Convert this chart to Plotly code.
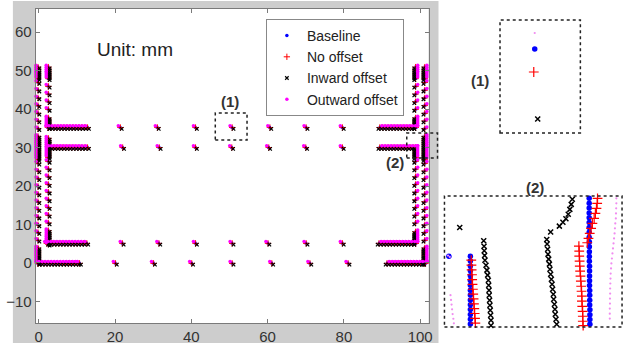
import plotly.graph_objects as go

W, H = 631, 346

# ---------------- main plot data (mm) ----------------
left_outer_x = -0.3
left_outer_y = [0, 0.5, 1, 1.5, 2, 2.5, 3, 3.5, 4, 6, 8, 10, 12, 14, 16, 18, 20, 22, 24, 26,
                27, 27.5, 28, 28.5, 29, 29.5, 30, 30.5, 31, 31.5, 32, 32.5, 33,
                35, 37, 39, 41, 43, 45, 47, 48, 48.5, 49, 49.5, 50, 50.5, 51]
left_inner_x = 2.4
left_inner_y = [5, 5.5, 6, 6.5, 7, 7.5, 8, 8.5, 10.5, 12.5, 14.5, 16.5, 18.5, 20.5, 22.5, 24.5, 26.5,
                27.5, 28, 28.5, 29, 29.5, 30, 30.5, 31, 31.5, 32, 32.5,
                35.3, 35.8, 36.3, 36.8, 37.3, 37.8, 40, 42, 44, 46, 48, 48.5, 49, 49.5, 50, 50.5, 51]
right_inner_x = 98.9
right_inner_y = [5.2, 5.7, 6.2, 6.7, 7.2, 7.7, 8.2, 10.5, 12.5, 14.5, 16.5, 18.5, 20.5, 22.5, 24.5, 26.5,
                 27.5, 28, 28.5, 29, 29.5, 30.1,
                 35.3, 35.8, 36.3, 36.8, 37.3, 37.8, 40, 42, 44, 46, 48, 48.5, 49, 49.5, 50, 50.5, 51]
right_outer_x = 101.3
right_outer_y = [0, 0.5, 1, 1.5, 2, 2.5, 3, 3.5, 4, 6, 8, 10, 12, 14, 16, 18, 20, 22, 24, 26,
                 27, 27.5, 28, 28.5, 29, 29.5, 30, 30.5, 31, 31.5, 32, 32.5, 33,
                 35, 37, 39, 41, 43, 45, 47, 48, 48.5, 49, 49.5, 50, 50.5, 51]

row_levels = [35.3, 30.1, 5.2, 0.0]
left_row_x = [
    [2.3, 3.1, 3.9, 4.7, 5.5, 6.3, 7.1, 7.9, 8.7, 9.5, 10.3, 11.1, 11.9, 12.7],
    [3.0, 3.8, 4.6, 5.4, 6.2, 7.0, 7.8, 8.6, 9.4, 10.2, 11.0, 11.8, 12.7],
    [2.0, 2.8, 3.6, 4.4, 5.2, 6.0, 6.8, 7.6, 8.4, 9.2, 10.0, 10.8, 11.6, 12.5],
    [-0.3, 0.5, 1.3, 2.1, 2.9, 3.7, 4.5, 5.3, 6.1, 6.9, 7.7, 8.5, 9.3, 10.1, 10.6],
]
right_row_x = [
    [89.5, 90.3, 91.1, 91.9, 92.7, 93.5, 94.3, 95.1, 95.9, 96.7, 97.5, 98.3, 98.9],
    [89.5, 90.3, 91.1, 91.9, 92.7, 93.5, 94.3, 95.1, 95.9, 96.7, 97.5, 98.3, 98.9],
    [89.3, 90.1, 90.9, 91.7, 92.5, 93.3, 94.1, 94.9, 95.7, 96.5, 97.3, 98.1, 98.9],
    [91.4, 92.2, 93.0, 93.8, 94.6, 95.4, 96.2, 97.0, 97.8, 98.6, 99.4, 100.2, 101.0, 101.5],
]
mid_x = [
    [21.3, 31.0, 41.0, 50.6, 60.5, 70.0, 79.5],
    [21.9, 31.5, 41.0, 50.5, 60.2, 69.9, 79.5],
    [21.8, 31.4, 41.0, 50.6, 60.0, 70.0, 79.5],
    [20.0, 30.0, 40.0, 50.6, 61.0, 71.0, 81.0],
]

series_names = ["Baseline", "No offset", "Inward offset", "Outward offset"]
series_dx = [0.0, 0.1, 0.45, -0.45]
series_dy = [0.0, -0.1, -0.45, 0.35]

# ---------------- inset (1): zoom of point near (51, 35), local units ----------------
in1_x = [4.32, 4.20, 4.69, 4.32]     # Baseline, No offset, Inward, Outward
in1_y = [7.43, 5.40, 1.24, 8.85]

# ---------------- inset (2): zoom of right notch, local units ----------------
in2_base_x = [0.25, 1.46, 1.46, 1.46, 1.46, 1.46, 1.46, 1.46, 1.46, 1.46, 1.46, 1.46, 1.46, 1.46, 1.46, 1.46,
              8.15, 8.15, 8.15, 8.15, 8.15, 8.15, 8.15, 8.15, 8.15, 8.16, 8.16, 8.16, 8.16, 8.16,
              8.17, 8.17, 8.17, 8.17, 8.17, 8.18, 8.18, 8.18, 8.18, 8.19, 8.19, 8.19, 8.19]
in2_base_y = [5.40, 5.40, 5.03, 4.66, 4.29, 3.92, 3.55, 3.18, 2.81, 2.44, 2.07, 1.70, 1.33, 0.96, 0.59, 0.22,
              9.82, 9.45, 9.08, 8.71, 8.34, 7.97, 7.60, 7.23, 6.86, 6.49, 6.12, 5.75, 5.38, 5.01,
              4.64, 4.27, 3.90, 3.53, 3.16, 2.79, 2.42, 2.05, 1.68, 1.31, 0.94, 0.57, 0.21]
in2_nooff_x = [1.51, 1.52, 1.53, 1.55, 1.56, 1.58, 1.60, 1.62, 1.64, 1.66, 1.68, 1.70, 1.72, 1.74,
               7.57, 7.59, 7.59, 7.61, 7.62, 7.64, 7.66, 7.68, 7.70, 7.72, 7.74, 7.74, 7.76, 7.78, 7.79, 7.79, 7.81,
               8.62, 8.60, 8.56, 8.50, 8.43, 8.33, 8.26, 8.18, 8.11, 8.04]
in2_nooff_y = [5.10, 4.73, 4.36, 3.99, 3.62, 3.25, 2.88, 2.51, 2.14, 1.77, 1.40, 1.03, 0.66, 0.29,
               6.17, 5.79, 5.41, 5.03, 4.64, 4.26, 3.88, 3.50, 3.11, 2.73, 2.35, 1.97, 1.58, 1.20, 0.82, 0.44, 0.11,
               9.82, 9.44, 9.06, 8.67, 8.29, 7.91, 7.53, 7.14, 6.76, 6.43]
in2_in_x = [0.86,
            2.21, 2.23, 2.24, 2.26, 2.28, 2.34, 2.39, 2.43, 2.47, 2.49, 2.51, 2.52, 2.54, 2.56, 2.58, 2.60, 2.62, 2.62,
            7.20, 7.14, 7.06, 6.97, 6.84, 6.67, 6.47, 5.98,
            5.76, 5.78, 5.81, 5.83, 5.87, 5.91, 5.94, 5.98, 6.02, 6.06, 6.09, 6.13, 6.15, 6.19, 6.22, 6.24, 6.28, 6.32]
in2_in_y = [7.60,
            6.58, 6.17, 5.82, 5.46, 5.10, 4.72, 4.34, 3.96, 3.57, 3.19, 2.81, 2.43, 2.04, 1.66, 1.28, 0.90, 0.51, 0.11,
            9.75, 9.36, 8.98, 8.60, 8.27, 7.99, 7.70, 7.25,
            6.68, 6.33, 5.94, 5.56, 5.18, 4.80, 4.41, 4.03, 3.65, 3.27, 2.88, 2.50, 2.12, 1.74, 1.35, 0.97, 0.59, 0.21]
in2_out_x = [0.20, 0.30, 0.34, 0.37, 0.40, 0.43, 0.46, 0.50, 0.53,
             9.68, 9.68, 9.67, 9.66, 9.65, 9.62, 9.60, 9.58, 9.55, 9.52, 9.49, 9.46, 9.43, 9.40,
             9.38, 9.36, 9.35, 9.34, 9.33, 9.33, 9.32, 9.32, 9.31, 9.31, 9.31]
in2_out_y = [5.45, 5.35, 2.43, 2.07, 1.71, 1.35, 0.99, 0.63, 0.28,
             9.82, 9.44, 9.06, 8.67, 8.29, 7.91, 7.53, 7.14, 6.76, 6.38, 6.00, 5.62, 5.23, 4.85,
             4.47, 4.08, 3.70, 3.32, 2.94, 2.55, 2.17, 1.79, 1.41, 1.02, 0.64]

# ---------------- styles ----------------
marker_main = [
    dict(symbol="circle", color="#0000ff", size=3.5, line=dict(width=0)),
    dict(symbol="cross-thin", color="#ff0000", size=4.5, line=dict(color="#ff0000", width=1)),
    dict(symbol="x-thin", color="#000000", size=3.5, line=dict(color="#000000", width=1.2)),
    dict(symbol="circle", color="#ff00ff", size=3.5, line=dict(width=0)),
]
marker_inset = [
    dict(symbol="circle", color="#0000ff", size=5.5, line=dict(width=0)),
    dict(symbol="cross-thin", color="#ff0000", size=7, line=dict(color="#ff0000", width=1.2)),
    dict(symbol="x-thin", color="#000000", size=5, line=dict(color="#000000", width=1.5)),
    dict(symbol="circle", color="#f08cf0", size=2.2, line=dict(width=0)),
]


def series_points(k):
    dx, dy = series_dx[k], series_dy[k]
    xs, ys = [], []
    for cx, cys, sgn in [(left_outer_x, left_outer_y, 1), (left_inner_x, left_inner_y, 1),
                         (right_inner_x, right_inner_y, -1), (right_outer_x, right_outer_y, -1)]:
        xs += [cx + sgn * dx] * len(cys)
        ys += [v + dy for v in cys]
    for lvl, lx, rx, mx in zip(row_levels, left_row_x, right_row_x, mid_x):
        for group, sgn in [(lx, 1), (rx, -1), (mx, 1)]:
            xs += [v + sgn * dx for v in group]
            ys += [lvl + dy] * len(group)
    return xs, ys


fig = go.Figure()
for k, name in enumerate(series_names):
    xs, ys = series_points(k)
    fig.add_trace(go.Scatter(x=xs, y=ys, mode="markers", name=name, marker=marker_main[k],
                             cliponaxis=False, xaxis="x", yaxis="y"))

for k in range(4):
    fig.add_trace(go.Scatter(x=[in1_x[k]], y=[in1_y[k]], mode="markers", marker=marker_inset[k],
                             showlegend=False, cliponaxis=False, xaxis="x2", yaxis="y2"))

in2 = [(in2_base_x, in2_base_y), (in2_nooff_x, in2_nooff_y), (in2_in_x, in2_in_y), (in2_out_x, in2_out_y)]
for k, (ix, iy) in enumerate(in2):
    fig.add_trace(go.Scatter(x=ix, y=iy, mode="markers", marker=marker_inset[k],
                             showlegend=False, cliponaxis=False, xaxis="x3", yaxis="y3"))


def px(x):
    return x / W


def py(y):
    return 1 - y / H


main_l, main_r, main_t, main_b = 35, 431, 9, 323

shapes = [
    dict(type="rect", xref="paper", yref="paper", x0=px(12), x1=px(441), y0=py(343), y1=py(1),
         fillcolor="#cdcdcd", line=dict(width=0), layer="below"),
    dict(type="rect", xref="paper", yref="paper", x0=px(main_l), x1=px(main_r), y0=py(main_b), y1=py(main_t),
         fillcolor="#ffffff", line=dict(width=0), layer="below"),
]
for (x0, y0, x1, y1) in [(216, 113, 248, 140), (409, 133, 440, 158), (503, 20, 584, 133), (447, 196, 626, 327)]:
    shapes.append(dict(type="rect", xref="paper", yref="paper", x0=px(x0), x1=px(x1), y0=py(y1), y1=py(y0),
                       line=dict(color="#222222", width=1.5, dash="dot"), fillcolor="rgba(0,0,0,0)"))

annotations = [
    dict(text="Unit: mm", x=px(135), y=py(50), xref="paper", yref="paper", showarrow=False,
         xanchor="center", yanchor="middle",
         font=dict(family="Liberation Sans", size=19, color="#222222")),
]
for txt, x, y in [("(1)", 231, 101), ("(2)", 397, 162), ("(1)", 483, 80), ("(2)", 538, 187)]:
    annotations.append(dict(text="<b>%s</b>" % txt, x=px(x), y=py(y), xref="paper", yref="paper",
                            showarrow=False, xanchor="center", yanchor="middle",
                            font=dict(family="Liberation Sans", size=15, color="#333333")))

axis_common = dict(showgrid=False, zeroline=False, showline=True, mirror="ticks", ticks="inside",
                   ticklen=4, linecolor="#7a7a7a", tickcolor="#7a7a7a", linewidth=1,
                   tickfont=dict(family="Liberation Sans", size=15, color="#333333"))

fig.update_layout(
    width=W, height=H,
    margin=dict(l=0, r=0, t=0, b=0),
    paper_bgcolor="#ffffff", plot_bgcolor="rgba(0,0,0,0)",
    xaxis=dict(domain=[px(main_l), px(main_r)], range=[-0.8, 102.2],
               tickvals=[0, 20, 40, 60, 80, 100], **axis_common),
    yaxis=dict(domain=[py(main_b), py(main_t)], range=[-15.6, 66],
               tickvals=[-10, 0, 10, 20, 30, 40, 50, 60], **axis_common),
    xaxis2=dict(domain=[px(503), px(584)], range=[0, 10], visible=False),
    yaxis2=dict(domain=[py(133), py(20)], range=[0, 10], visible=False),
    xaxis3=dict(domain=[px(447), px(626)], range=[0, 10], visible=False),
    yaxis3=dict(domain=[py(327), py(196)], range=[0, 10], visible=False),
    legend=dict(x=px(267), y=py(19), xanchor="left", yanchor="top",
                bgcolor="#ffffff", bordercolor="#888888", borderwidth=1,
                font=dict(family="Liberation Sans", size=14, color="#222222"),
                tracegroupgap=0, itemwidth=30),
    shapes=shapes,
    annotations=annotations,
)

fig.write_html("out.html", config={"displayModeBar": False},
               post_script="document.body.style.margin='0';document.body.style.padding='0';")
